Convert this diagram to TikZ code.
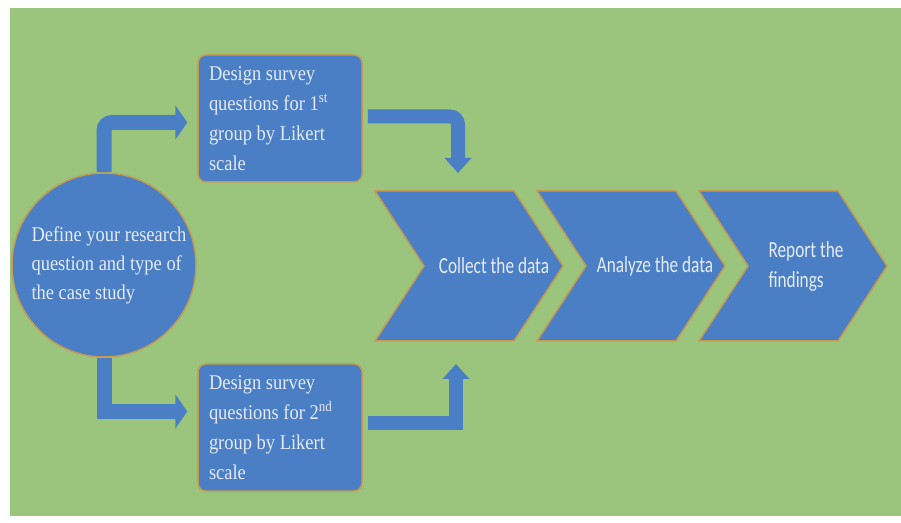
\documentclass[tikz,border=0pt]{standalone}
\usepackage{fontspec}
\setmainfont[FakeStretch=0.88]{Liberation Serif}
\newfontfamily\chevfont[FakeStretch=0.75]{Carlito}
\usetikzlibrary{arrows.meta}
\definecolor{bggreen}{HTML}{9BC47C}
\definecolor{stepblue}{HTML}{4A7FC5}
\definecolor{edgeorange}{HTML}{C49A52}
\definecolor{lighttext}{HTML}{E6EAF2}

\begin{document}
\begin{tikzpicture}[x=1pt,y=1pt,
    blueshape/.style={fill=stepblue, draw=edgeorange, line width=1.5pt},
    qbox/.style={blueshape, rounded corners=8pt, minimum width=164pt, minimum height=127pt,
      text width=142pt, inner sep=11pt, align=flush left, text=lighttext,
      font=\fontsize{21}{30}\selectfont},
    bigarrow/.style={stepblue, line width=15pt, -{Triangle[width=34pt,length=12pt]}},
    smallarrow/.style={stepblue, line width=14pt, -{Triangle[width=26pt,length=15pt]}},
    chevtext/.style={text=lighttext, align=left, font=\chevfont\fontsize{23}{30}\selectfont}]

        % Page and green background
        \useasboundingbox (0,0) rectangle (901,522);
        \fill[bggreen] (10,6) rectangle (901,514);

        % Starting circle
        \node[blueshape, circle, minimum size=184pt, inner sep=0pt, align=left, text=lighttext,
          font=\fontsize{21}{29}\selectfont] (define) at (104,257)
          {\hspace*{10pt}Define your research\\\hspace*{10pt}question and type of\\\hspace*{10pt}the case study};

        % Survey boxes for the two groups
        \node[qbox] (q1) at (280,403.5) {Design survey\\questions for 1\textsuperscript{st}\\group by Likert\\scale};
        \node[qbox] (q2) at (280,94.5) {Design survey\\questions for 2\textsuperscript{nd}\\group by Likert\\scale};

        % Chevron steps, left edge every 162
        \foreach \x in {375,537,699}
          \draw[blueshape] (\x,331) -- ++(139,0) -- ++(49,-75) -- ++(-49,-75) -- ++(-139,0) -- ++(49,75) -- cycle;
        \node[chevtext] (collect) at (494,256) {Collect the data};
        \node[chevtext] (analyze) at (655,256) {Analyze the data};
        \node[chevtext] (report) at (806,256) {Report the\\findings};

        % Ends of the arrows into the first chevron
        \coordinate (chevtop) at (458,331);
        \coordinate (chevbot) at (456,181);

        % Bent arrows
        \draw[bigarrow, rounded corners=8pt, shorten >=10pt] (define.north) |- ([yshift=-4pt]q1.west);
        \draw[bigarrow, shorten >=10pt] (define.south) |- ([yshift=16pt]q2.west);
        \draw[smallarrow, rounded corners=8pt, shorten <=5pt, shorten >=18pt] ([yshift=2pt]q1.east) -| (chevtop);
        \draw[smallarrow, shorten <=5pt, shorten >=23pt] ([yshift=5pt]q2.east) -| (chevbot);

\end{tikzpicture}
\end{document}
